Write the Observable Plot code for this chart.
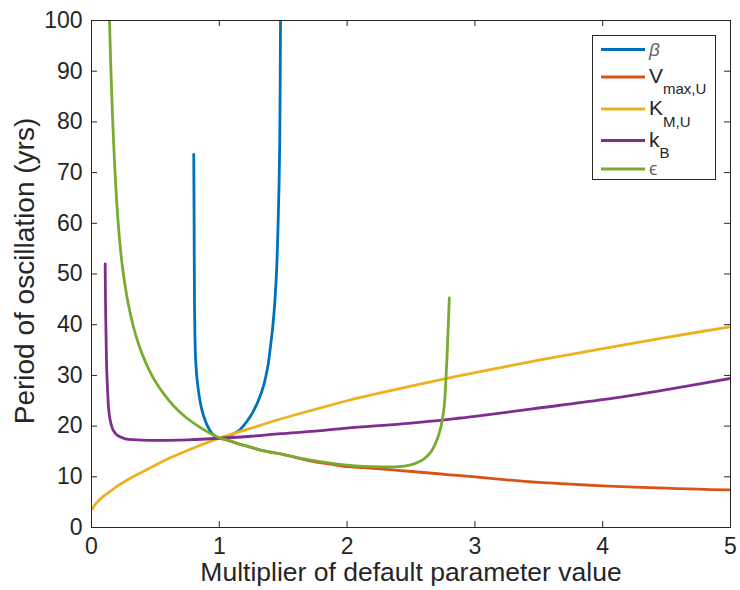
<!DOCTYPE html>
<html>
<head>
<meta charset="utf-8">
<script src="https://cdn.jsdelivr.net/npm/d3@7"></script>
<script src="https://cdn.jsdelivr.net/npm/@observablehq/plot@0.6"></script>
<style>
  html, body { margin: 0; padding: 0; background: #fff; }
  #chart { position: relative; width: 740px; height: 590px; }
</style>
</head>
<body>
<div id="chart"></div>
<script>
// ---- data ----
const seriesNames = ["β", "Vmax,U", "KM,U", "kB", "ϵ"];
const seriesColors = ["#0072BD", "#D95319", "#EDB120", "#7E2F8E", "#77AC30"];

const betaX = [0.800, 0.803, 0.806, 0.810, 0.814, 0.825, 0.840, 0.860, 0.880, 0.910, 0.944, 0.975, 1.000, 1.040, 1.080, 1.120, 1.153, 1.200, 1.240, 1.270, 1.310, 1.350, 1.380, 1.400, 1.420, 1.440, 1.452, 1.460, 1.467, 1.473, 1.479];
const betaY = [73.6, 60.0, 43.5, 37.0, 33.6, 29.5, 26.4, 23.6, 21.8, 19.9, 18.5, 17.9, 17.6, 17.7, 18.1, 18.6, 19.1, 20.4, 21.8, 23.1, 25.3, 28.3, 31.8, 35.6, 40.0, 46.7, 53.0, 59.9, 67.0, 76.3, 100];

const vmaxX = [1.00, 1.07, 1.15, 1.25, 1.35, 1.48, 1.60, 1.74, 1.87, 2.00, 2.13, 2.26, 2.42, 2.60, 2.80, 3.00, 3.25, 3.50, 3.75, 4.00, 4.25, 4.50, 4.75, 5.00];
const vmaxY = [17.6, 17.2, 16.5, 15.8, 15.1, 14.5, 13.8, 13.0, 12.5, 12.0, 11.8, 11.55, 11.2, 10.85, 10.4, 10.0, 9.4, 8.9, 8.55, 8.2, 7.95, 7.75, 7.55, 7.4];

const kmX = [0.008, 0.03, 0.06, 0.10, 0.133, 0.20, 0.29, 0.40, 0.50, 0.63, 0.76, 0.88, 1.00, 1.25, 1.48, 1.75, 2.00, 2.25, 2.50, 2.89, 3.00, 3.50, 4.00, 4.50, 5.00];
const kmY = [3.7, 4.6, 5.4, 6.3, 6.9, 8.1, 9.5, 11.0, 12.3, 13.9, 15.3, 16.5, 17.6, 19.6, 21.4, 23.3, 25.0, 26.5, 27.9, 30.0, 30.55, 33.0, 35.3, 37.5, 39.6];

const kbX = [0.107, 0.110, 0.115, 0.120, 0.127, 0.133, 0.145, 0.160, 0.172, 0.20, 0.264, 0.35, 0.446, 0.60, 0.76, 1.00, 1.25, 1.48, 1.75, 2.00, 2.50, 2.89, 3.00, 3.45, 4.00, 4.50, 5.00];
const kbY = [52.0, 44.0, 36.0, 30.5, 26.5, 23.7, 21.3, 19.8, 19.1, 18.2, 17.5, 17.3, 17.2, 17.2, 17.3, 17.6, 18.0, 18.5, 19.0, 19.6, 20.6, 21.6, 21.9, 23.4, 25.2, 27.2, 29.4];

const epsX = [0.141, 0.151, 0.164, 0.185, 0.206, 0.229, 0.250, 0.276, 0.300, 0.330, 0.368, 0.400, 0.430, 0.460, 0.500, 0.570, 0.655, 0.740, 0.837, 0.920, 1.000, 1.070, 1.150, 1.250, 1.350, 1.480, 1.600, 1.740, 1.870, 2.000, 2.130, 2.260, 2.370, 2.470, 2.540, 2.600, 2.650, 2.690, 2.720, 2.744, 2.760, 2.770, 2.783, 2.792, 2.800];
const epsY = [100, 91, 81.4, 69.6, 61.0, 54.3, 49.9, 45.7, 42.6, 39.4, 36.2, 34.0, 32.2, 30.6, 28.8, 26.2, 23.65, 21.7, 19.95, 18.7, 17.7, 17.2, 16.5, 15.8, 15.1, 14.5, 13.85, 13.2, 12.7, 12.3, 12.05, 11.95, 11.95, 12.2, 12.7, 13.5, 14.7, 16.5, 18.5, 21.1, 24.0, 27.7, 34.3, 40.0, 45.3];

const xTicks = [0, 1, 2, 3, 4, 5];
const yTicks = [0, 10, 20, 30, 40, 50, 60, 70, 80, 90, 100];
const xLabel = "Multiplier of default parameter value";
const yLabel = "Period of oscillation (yrs)";

// ---- build table ----
const xsList = [betaX, vmaxX, kmX, kbX, epsX];
const ysList = [betaY, vmaxY, kmY, kbY, epsY];
const rows = seriesNames.flatMap((name, i) =>
  xsList[i].map((x, j) => ({series: name, x, y: ysList[i][j]})));

const FONT = "'Liberation Sans', Arial, Helvetica, sans-serif";
const INK = "#262626";

const chart = Plot.plot({
  width: 740,
  height: 590,
  marginLeft: 91,
  marginRight: 10,
  marginTop: 20,
  marginBottom: 63,
  style: {fontFamily: FONT, fontSize: "23px", color: INK, background: "#fff"},
  x: {domain: [0, 5]},
  y: {domain: [0, 100]},
  color: {domain: seriesNames, range: seriesColors},
  marks: [
    Plot.line(rows, {x: "x", y: "y", z: "series", stroke: "series", strokeWidth: 2.8, curve: "catmull-rom", clip: true}),
    Plot.frame({stroke: INK, strokeWidth: 1}),
    Plot.tickX(xTicks, {x: d => d, insetTop: 501, stroke: INK}),
    Plot.tickX(xTicks, {x: d => d, insetBottom: 501, stroke: INK}),
    Plot.tickY(yTicks, {y: d => d, insetRight: 633, stroke: INK}),
    Plot.tickY(yTicks, {y: d => d, insetLeft: 633, stroke: INK}),
    Plot.axisX({ticks: xTicks, tickSize: 0, tickPadding: 10, fontSize: 23, label: null, tickFormat: d => String(d)}),
    Plot.axisY({ticks: yTicks, tickSize: 0, tickPadding: 9, fontSize: 23, label: null, tickFormat: d => String(d)}),
    Plot.text([xLabel], {text: d => d, frameAnchor: "bottom", textAnchor: "middle", dy: 53, lineAnchor: "bottom", fontSize: 26.5, fill: INK}),
    Plot.text([yLabel], {text: d => d, frameAnchor: "left", textAnchor: "middle", rotate: -90, dx: -58, dy: -3, lineAnchor: "bottom", fontSize: 28, fill: INK})
  ]
});

document.getElementById("chart").appendChild(chart);

// ---- legend (top right, inside the axes) ----
const svg = d3.select(chart.tagName === "svg" ? chart : chart.querySelector("svg"));
const lg = svg.append("g").attr("font-family", FONT).attr("fill", INK).attr("text-anchor", "start");
lg.append("rect").attr("x", 592.5).attr("y", 35.5).attr("width", 123).attr("height", 144)
  .attr("fill", "#fff").attr("stroke", INK).attr("stroke-width", 1);
const rowY = [49.5, 77, 109, 140.5, 169];
const labels = [
  {main: "β", sub: null, italic: true, color: "#666", size: 19},
  {main: "V", sub: "max,U", subDy: 11},
  {main: "K", sub: "M,U", subDy: 12},
  {main: "k", sub: "B", subDy: 11},
  {main: "ϵ", sub: null, italic: false, color: "#666", size: 19}
];
seriesNames.forEach((name, i) => {
  lg.append("line").attr("x1", 601).attr("x2", 645).attr("y1", rowY[i]).attr("y2", rowY[i])
    .attr("stroke", seriesColors[i]).attr("stroke-width", 3);
  const L = labels[i];
  const t = lg.append("text").attr("x", 649).attr("y", rowY[i] + 6).attr("font-size", L.size || 21)
    .attr("text-anchor", "start");
  const m = t.append("tspan").text(L.main);
  if (L.italic) m.attr("font-style", "italic");
  if (L.color) t.attr("fill", L.color);
  if (L.sub) t.append("tspan").attr("dy", L.subDy).attr("font-size", 15).text(L.sub);
});
</script>
</body>
</html>
